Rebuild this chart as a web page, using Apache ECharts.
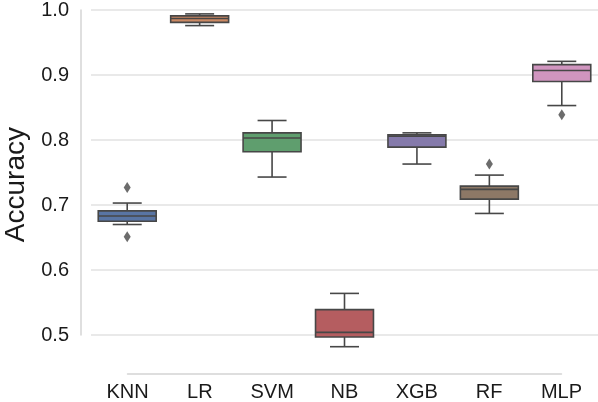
<!DOCTYPE html>
<html>
<head>
<meta charset="utf-8">
<script src="https://cdn.jsdelivr.net/npm/echarts@6/dist/echarts.min.js"></script>
<style>html,body{margin:0;padding:0;background:#fff;}#c{width:598px;height:402px;}</style>
</head>
<body>
<div id="c"></div>
<script>
const categories = ['KNN', 'LR', 'SVM', 'NB', 'XGB', 'RF', 'MLP'];
// [lower whisker, Q1, median, Q3, upper whisker]
const boxStats = [
  [0.670, 0.675, 0.683, 0.691, 0.703],
  [0.976, 0.981, 0.987, 0.991, 0.994],
  [0.743, 0.782, 0.803, 0.811, 0.830],
  [0.482, 0.497, 0.504, 0.539, 0.564],
  [0.763, 0.789, 0.806, 0.808, 0.811],
  [0.687, 0.709, 0.724, 0.729, 0.746],
  [0.853, 0.890, 0.907, 0.916, 0.921]
];
// [category index, value]
const outliers = [
  [0, 0.727], [0, 0.651],
  [5, 0.763],
  [6, 0.839]
];
const yTicks = [0.5, 0.6, 0.7, 0.8, 0.9, 1.0];
const colors = ['#5975a4', '#cc8963', '#5f9e6e', '#b55d60', '#857aab', '#8d7866', '#d095bf'];

const edge = '#474747';
const boxData = boxStats.map((s, i) => [i].concat(s));

function renderBox(params, api) {
  const x = api.value(0);
  const lo = api.coord([x, api.value(1)]);
  const q1 = api.coord([x, api.value(2)]);
  const md = api.coord([x, api.value(3)]);
  const q3 = api.coord([x, api.value(4)]);
  const hi = api.coord([x, api.value(5)]);
  const bw = api.size([1, 0])[0] * 0.8;
  const cx = lo[0];
  const half = bw / 2, cap = bw / 4;
  const ls = { stroke: edge, lineWidth: 1.6 };
  return {
    type: 'group',
    children: [
      { type: 'line', shape: { x1: cx, y1: q1[1], x2: cx, y2: lo[1] }, style: ls },
      { type: 'line', shape: { x1: cx, y1: q3[1], x2: cx, y2: hi[1] }, style: ls },
      { type: 'line', shape: { x1: cx - cap, y1: lo[1], x2: cx + cap, y2: lo[1] }, style: ls },
      { type: 'line', shape: { x1: cx - cap, y1: hi[1], x2: cx + cap, y2: hi[1] }, style: ls },
      { type: 'rect', shape: { x: cx - half, y: q3[1], width: bw, height: q1[1] - q3[1] },
        style: { fill: colors[params.dataIndex], stroke: edge, lineWidth: 1.6 } },
      { type: 'line', shape: { x1: cx - half, y1: md[1], x2: cx + half, y2: md[1] }, style: ls }
    ]
  };
}

const chart = echarts.init(document.getElementById('c'), null, { renderer: 'canvas' });
chart.setOption({
  animation: false,
  backgroundColor: '#ffffff',
  grid: [
    { left: 91, right: 0, top: 7, bottom: 67 },
    { left: 127.5, right: 36.5, top: 7, bottom: 27 }
  ],
  xAxis: [
    { gridIndex: 0, type: 'category', data: categories, show: false },
    { gridIndex: 1, type: 'category', data: categories, boundaryGap: false,
      axisLine: { show: true, lineStyle: { color: '#d4d4d4', width: 1.5 } },
      axisTick: { show: false },
      axisLabel: { fontSize: 20, color: '#1a1a1a', fontFamily: 'Liberation Sans, Arial, sans-serif', margin: 8 },
      splitLine: { show: false } }
  ],
  yAxis: [
    { gridIndex: 0, type: 'value', min: 0.5, max: 1.0, interval: 0.1, offset: 10,
      axisLine: { show: true, lineStyle: { color: '#d4d4d4', width: 1.5 } },
      axisTick: { show: false },
      axisLabel: { fontSize: 20, color: '#1a1a1a', fontFamily: 'Liberation Sans, Arial, sans-serif', margin: 12,
        formatter: v => (yTicks.find(t => Math.abs(t - v) < 1e-9) || v).toFixed(1) },
      splitLine: { show: true, lineStyle: { color: '#e2e2e2', width: 1.5 } } },
    { gridIndex: 1, type: 'value', show: false, min: 0, max: 1 }
  ],
  graphic: [
    { type: 'text', left: 2, top: 127, rotation: Math.PI / 2, originX: 0, originY: 0,
      style: { text: 'Accuracy', fontSize: 28, fill: '#1a1a1a', fontFamily: 'Liberation Sans, Arial, sans-serif' } }
  ],
  series: [
    { type: 'custom', xAxisIndex: 0, yAxisIndex: 0, renderItem: renderBox, data: boxData,
      encode: { x: 0, y: [1, 2, 3, 4, 5] }, clip: false, z: 3 },
    { type: 'scatter', xAxisIndex: 0, yAxisIndex: 0, data: outliers, symbol: 'diamond',
      symbolSize: [7, 11], itemStyle: { color: '#474747' }, z: 4 }
  ]
});
</script>
</body>
</html>
